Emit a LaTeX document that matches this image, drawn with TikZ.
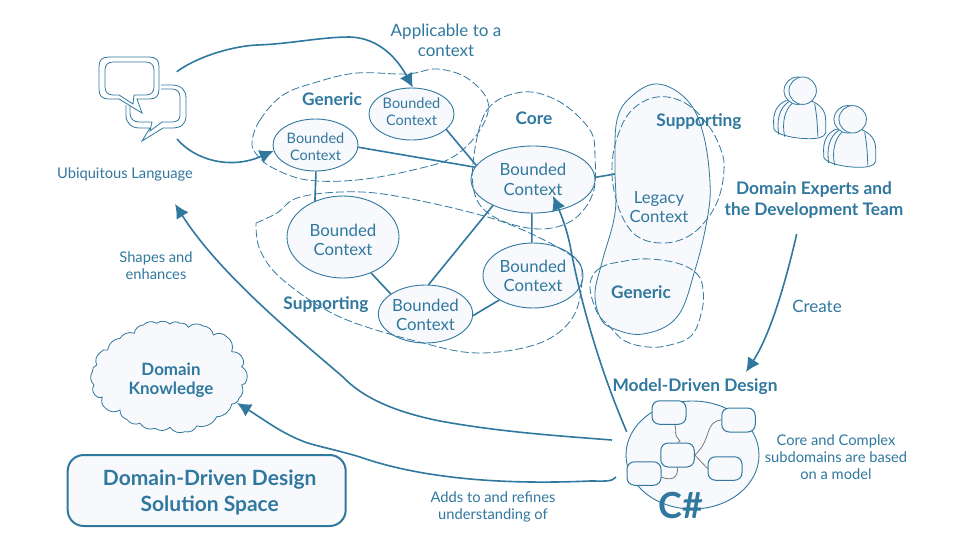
\documentclass[tikz,border=0pt]{standalone}
\usepackage{fontspec}
\setmainfont{Lato}
\usetikzlibrary{arrows.meta,shapes.geometric}
\definecolor{ddblue}{HTML}{31789F}
\definecolor{ddfill}{HTML}{F7F9FC}
\definecolor{ddgray}{HTML}{7A7A7A}
\newcommand{\fs}[1]{\fontsize{#1}{18}\selectfont\setlength{\baselineskip}{1.15\dimexpr #1pt\relax}}
\newcommand{\bc}[1]{\raisebox{#1}[\height][\depth]{Bounded}\\\raisebox{#1}[\height][\depth]{Context}}
\newcommand{\personicon}[2]{%
\begin{scope}[shift={(#1,#2)}]
  \draw[icon,fill=ddfill] (-29,35) .. controls (-30,22) and (-26,14) .. (-17,10) -- (8,10) .. controls (18,14) and (23,20) .. (23,30) -- (23,42) .. controls (22,47) and (14,48) .. (6,48) .. controls (-8,48) and (-27,44) .. (-29,38) -- cycle;
  \draw[icon] (-24,44) .. controls (-26,30) and (-24,18) .. (-14,11);
  \draw[icon] (-18,46) .. controls (-21,32) and (-18,20) .. (-11,13);
  \draw[icon] (12,13) .. controls (14,24) and (15,36) .. (15,46);
  \draw[icon,fill=ddfill] (-5,0) circle (13.7);
  \draw[icon,fill=ddfill] (0,0) circle (13.7);
\end{scope}}
\tikzset{
  x=1pt,y=-1pt,
  icon/.style={draw=ddblue,line width=0.8pt},
  ctx/.style={ellipse,draw=ddblue,fill=ddfill,line width=0.9pt,inner sep=0pt,align=center,text=ddblue},
  small/.style={font=\fs{14.5}},
  big/.style={font=\fs{16.8}},
  link/.style={draw=ddblue,line width=1.6pt},
  flow/.style={draw=ddblue,line width=1.6pt,-{Latex[length=14pt,width=14pt]}},
  region/.style={draw=ddblue,line width=0.8pt,dash pattern=on 8pt off 3pt},
  lbl/.style={text=ddblue,align=center,inner sep=0pt,font=\fs{14.7}},
  head/.style={text=ddblue,align=center,inner sep=0pt,font=\fs{17.3}\bfseries},
  card/.style={draw=ddblue,fill=ddfill,line width=1pt,rounded corners=7.5pt,inner sep=0pt},
  wire/.style={draw=ddgray,line width=0.8pt},
  puff/.style={bend right=38},
}
\begin{document}
\begin{tikzpicture}
\useasboundingbox[fill=white] (0,0) rectangle (954,542);

% legacy blob
\draw[icon,fill=ddfill] plot[smooth cycle,tension=0.65] coordinates {(658,84)(632,96)(617,120)(615,168)(615,213)(602,262)(595,293)(600,317)(612,328)(643,334)(677,317)(695,270)(707,220)(710,183)(703,133)(687,100)};

% contexts
\node[ctx,small,minimum width=85pt,minimum height=52pt] (gentwo) at (315.5,145) {\bc{-2pt}};
\node[ctx,small,minimum width=85pt,minimum height=52pt] (genone) at (411.5,114) {\bc{2pt}};
\node[ctx,big,minimum width=124pt,minimum height=67pt] (core) at (533,179.5) {\bc{0pt}};
\node[ctx,big,minimum width=112pt,minimum height=82pt] (bigctx) at (343,237) {\bc{-3pt}};
\node[ctx,big,minimum width=93pt,minimum height=58pt] (lower) at (425.5,314) {\bc{-1pt}};
\node[ctx,big,minimum width=100pt,minimum height=65pt] (rightctx) at (533,275.5) {\bc{-0.5pt}};

\coordinate (legacyedge) at (615,174);
\draw[link] (gentwo.-3) -- (core.168);
\draw[link] (genone.-24) -- (core.166);
\draw[link] (gentwo.-89) -- (bigctx.128);
\draw[link] (bigctx.-52) -- (lower.150);
\draw[link] (lower.84) -- (core.-147.5);
\draw[link] (lower.-2) -- (rightctx.-144);
\draw[link] (core.-92) -- (rightctx.92);
\draw[link] (core.2) -- (legacyedge);

% dashed regions
\draw[region] plot[smooth cycle,tension=0.6] coordinates {(252,142)(260,120)(283,95)(317,82)(357,73)(407,74)(437,69)(467,78)(488,102)(480,130)(453,157)(413,170)(357,180)(307,180)(273,168)(257,155)};
\draw[region] plot[smooth cycle,tension=0.6] coordinates {(473,163)(487,110)(523,92)(560,102)(590,130)(595,157)(593,193)(573,220)(540,229)(500,220)(477,200)};
\draw[region] plot[smooth,tension=0.6] coordinates {(256,223)(277,213)(297,198)(340,192)(390,195)(473,213)(523,230)(573,257)(582,277)(573,317)(540,343)(480,353)(423,343)(340,317)(283,280)(260,250)(256,223)};
\draw[region] plot[smooth cycle,tension=0.65] coordinates {(657,97)(685,103)(708,125)(721,150)(724,170)(718,200)(703,224)(685,238)(663,243)(640,238)(625,222)(615,195)(612,165)(618,135)(632,110)};
\draw[region] plot[smooth cycle,tension=0.65] coordinates {(590,285)(600,268)(625,261)(650,259)(680,264)(698,275)(703,290)(702,310)(692,335)(670,345)(648,347)(625,341)(610,327)(597,312)};

% region labels
\node[head] (lgeneric) at (332,99) {Generic};
\node[head] (lcore) at (534,118) {Core};
\node[head] (lsupport) at (326,305) {Supporting};
\node[head] (rsupport) at (699,122) {Supporting};
\node[head] (rgeneric) at (641,292) {Generic};
\node[lbl,font=\fs{16.7}] (legacy) at (659,207) {Legacy\\Context};

% speech bubbles
\draw[icon] (99,67) .. controls (99,60) and (102,57) .. (109,57) -- (149,57) .. controls (156,57) and (159,60) .. (159,67) -- (159,89) .. controls (159,96) and (156,99) .. (149,99) -- (137,99) -- (142,113) -- (119,99) -- (109,99) .. controls (102,99) and (99,96) .. (99,89) -- cycle;
\draw[icon] (105,70) .. controls (105,65) and (108,62) .. (113,62) -- (146,62) .. controls (151,62) and (154,65) .. (154,70) -- (154,87) .. controls (154,92) and (151,95) .. (146,95) -- (134,95) -- (133,104) -- (119,95) -- (113,95) .. controls (108,95) and (105,92) .. (105,87) -- cycle;
\draw[icon] (161,85) -- (172,85) .. controls (181,85) and (186,90) .. (186,98) -- (186,116) .. controls (186,124) and (181,128) .. (172,128) -- (163,128) -- (142,141) -- (150,128) -- (140,128) .. controls (131,128) and (126,123) .. (126,115) -- (126,105);
\draw[icon] (161,89) -- (172,89) .. controls (177,89) and (180,92) .. (180,97) -- (180,115) .. controls (180,120) and (177,122) .. (172,122) -- (162,122) -- (150,131) -- (152,122) -- (139,122) .. controls (134,122) and (130,119) .. (130,113) -- (130,106);
\node[lbl] (ulang) at (125,174) {Ubiquitous Language};

% people
\personicon{802.7}{90.7}
\personicon{852.7}{119.3}
\node[head] (experts) at (814,200) {Domain Experts and\\[1pt]the Development Team};

% cloud
\draw[icon,fill=ddfill] (134.3,333.3) to[puff] (120,338.3) to[puff] (107.7,350) to[puff] (100,352.7) to[puff] (96.7,365) to[puff] (92.3,371.7) to[puff] (94,385) to[puff] (95,395) to[puff] (102.3,397.3) to[puff] (105.7,408.3) to[puff] (120,410) to[puff] (126.7,419.3) to[puff] (140,423.3) to[puff] (155,428.3) to[puff] (170,427.3) to[puff] (185,431.7) to[puff] (196.7,426) to[puff] (216.7,416.7) to[puff] (231.7,404) to[puff] (239,398.3) to[puff] (241.7,385) to[puff] (246.7,380) to[puff] (241.7,366.7) to[puff] (243.3,360) to[puff] (231.7,351.7) to[puff] (226.7,336.7) to[puff] (213.3,335) to[puff] (203.3,326) to[puff] (188.3,327.3) to[puff] (180,323.3) to[puff] (170,324) to[puff] (156.7,323.3) to[puff] (143.3,325) to[puff] (134.3,333.3) -- cycle;
\node[head,font=\fs{16.9}\bfseries] (knowtext) at (171,380) {Domain\\Knowledge};

% title
\node[draw=ddblue,fill=ddfill,line width=2pt,rounded corners=16pt,minimum width=278pt,minimum height=71pt,inner sep=0pt,text=ddblue] (title) at (206.7,490.5) {};
\node[align=center,inner sep=0pt,text=ddblue,font=\fs{21}\bfseries] (titletext) at (209.7,492.5) {Domain-Driven Design\\[2pt]Solution Space};

% model
\node[ellipse,draw=ddblue,fill=ddfill,line width=0.9pt,inner sep=0pt,minimum width=133pt,minimum height=108pt] (model) at (692.5,455) {};
\node[card,minimum width=34pt,minimum height=23.5pt] (cardone) at (669,412.5) {};
\node[card,minimum width=33.5pt,minimum height=24pt] (cardtwo) at (738.5,420) {};
\node[card,minimum width=33.5pt,minimum height=24pt] (cardthree) at (677.5,455) {};
\node[card,minimum width=34pt,minimum height=23.5pt] (cardfour) at (725,468.5) {};
\node[card,minimum width=34pt,minimum height=23.5pt] (cardfive) at (644,473.5) {};
\draw[wire] (cardone.-65) .. controls (678,434) and (672,432) .. (680,441) -- (cardthree.88);
\draw[wire] (cardthree.east) .. controls (712,440) and (704,422) .. (cardtwo.west);
\draw[wire] (cardthree.east) -- (cardfour.west);
\draw[wire] (cardthree.south) .. controls (678,478) and (672,481) .. (cardfive.-12);
\node[text=ddblue,inner sep=0pt,font=\fs{36}\bfseries] (csharp) at (680.7,505) {C\#};
\node[head] (mdd) at (695,387) {Model-Driven Design};

% free ends
\coordinate (langtop) at (176.7,71.7);
\coordinate (langbot) at (177,139);
\coordinate (expfoot) at (796.7,234);
\coordinate (mddtip) at (746,372);
\coordinate (modeltop) at (626.7,431.7);
\coordinate (coretip) at (553,196);
\coordinate (modelmid) at (612,440);
\coordinate (ulangtip) at (175,204);
\coordinate (modellow) at (616,477);
\coordinate (cloudtip) at (237,403);

% arrows
\draw[flow] (langtop) .. controls (200,55) and (235,46) .. (257,45) .. controls (290,44) and (320,37) .. (350,37) .. controls (380,38) and (398,60) .. (genone.87);
\draw[flow] (langbot) .. controls (195,160) and (230,170) .. (gentwo.188);
\draw[flow] (modeltop) .. controls (600,370) and (580,300) .. (570,245) .. controls (566,226) and (560,212) .. (coretip);
\draw[flow] (modelmid) .. controls (560,436) and (500,432) .. (440,421) .. controls (400,413) and (365,400) .. (343,377) .. controls (300,340) and (220,275) .. (ulangtip);
\draw[flow] (modellow) .. controls (612,482) and (605,481) .. (590,481) .. controls (500,485) and (420,478) .. (360,457) .. controls (330,448) and (310,445) .. (300,440) .. controls (280,432) and (260,417) .. (cloudtip);
\draw[flow] (expfoot) .. controls (785,285) and (770,335) .. (mddtip);

% labels
\node[lbl,font=\fs{17}] (apply) at (446,40.5) {Applicable to a\\context};
\node[lbl] (shapes) at (156,266) {Shapes and\\enhances};
\node[lbl,font=\fs{17}] (create) at (817,306) {Create};
\node[lbl] (complex) at (836,457) {Core and Complex\\subdomains are based\\on a model};
\node[lbl] (adds) at (493,507) {Adds to and refines\\understanding of};
\end{tikzpicture}
\end{document}
